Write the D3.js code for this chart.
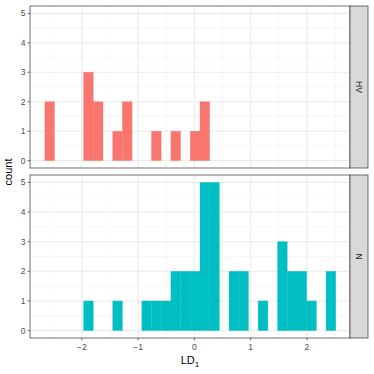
<!DOCTYPE html>
<html>
<head>
<meta charset="utf-8">
<script src="https://cdn.jsdelivr.net/npm/d3@7"></script>
<style>
  body { margin: 0; background: #fff; }
  text { font-family: "Liberation Sans", Arial, sans-serif; }
</style>
</head>
<body>
<div id="chart"></div>
<script>
// histogram bins (30 bins shared by both groups)
const binStart = -2.657;
const binWidth = 0.1723;
const groups = ["HV", "N"];
const countsHV = [2,0,0,0,3,2,0,1,2,0,0,1,0,1,0,1,2,0,0,0,0,0,0,0,0,0,0,0,0,0];
const countsN  = [0,0,0,0,1,0,0,1,0,0,1,1,1,2,2,2,5,5,0,2,2,0,1,0,3,2,2,1,0,2];
const groupColors = ["#F8766D", "#00BFC4"];
const xTicks = [-2, -1, 0, 1, 2];
const yTicks = [0, 1, 2, 3, 4, 5];

const W = 374, H = 374;
const panelLeft = 30, panelRight = 350, stripW = 18;
const panels = [{top: 6, bottom: 168}, {top: 175, bottom: 338}];

const svg = d3.select("#chart").append("svg")
    .attr("width", W).attr("height", H);

const x = d3.scaleLinear().domain([-2.92, 2.765]).range([panelLeft, panelRight]);
const allCounts = [countsHV, countsN];

groups.forEach((grp, gi) => {
    const p = panels[gi];
    const y = d3.scaleLinear().domain([-0.25, 5.25]).range([p.bottom, p.top]);
    const g = svg.append("g");

    g.append("rect")
        .attr("x", panelLeft).attr("y", p.top)
        .attr("width", panelRight - panelLeft).attr("height", p.bottom - p.top)
        .attr("fill", "#fff");

    // minor grid
    const xMinor = d3.range(-2.5, 3, 1);
    const yMinor = d3.range(0.5, 5.5, 1);
    g.selectAll(".xminor").data(xMinor).join("line")
        .attr("x1", d => x(d)).attr("x2", d => x(d))
        .attr("y1", p.top).attr("y2", p.bottom)
        .attr("stroke", "#F2F2F2").attr("stroke-width", 0.6);
    g.selectAll(".yminor").data(yMinor).join("line")
        .attr("y1", d => y(d)).attr("y2", d => y(d))
        .attr("x1", panelLeft).attr("x2", panelRight)
        .attr("stroke", "#F2F2F2").attr("stroke-width", 0.6);
    // major grid
    g.selectAll(".xmajor").data(xTicks).join("line")
        .attr("x1", d => x(d)).attr("x2", d => x(d))
        .attr("y1", p.top).attr("y2", p.bottom)
        .attr("stroke", "#EBEBEB").attr("stroke-width", 1.1);
    g.selectAll(".ymajor").data(yTicks).join("line")
        .attr("y1", d => y(d)).attr("y2", d => y(d))
        .attr("x1", panelLeft).attr("x2", panelRight)
        .attr("stroke", "#EBEBEB").attr("stroke-width", 1.1);

    // bars
    const bins = allCounts[gi].map((c, i) => ({
        x0: binStart + i * binWidth,
        x1: binStart + (i + 1) * binWidth,
        count: c
    }));
    g.selectAll(".bar").data(bins).join("rect")
        .attr("x", d => x(d.x0))
        .attr("width", d => x(d.x1) - x(d.x0))
        .attr("y", d => y(d.count))
        .attr("height", d => y(0) - y(d.count))
        .attr("fill", groupColors[gi])
        .attr("stroke", groupColors[gi])
        .attr("stroke-opacity", 0.4)
        .attr("stroke-width", 0.7);

    // panel border
    g.append("rect")
        .attr("x", panelLeft).attr("y", p.top)
        .attr("width", panelRight - panelLeft).attr("height", p.bottom - p.top)
        .attr("fill", "none").attr("stroke", "#333").attr("stroke-width", 0.7);

    // y axis
    g.selectAll(".ytick").data(yTicks).join("line")
        .attr("x1", panelLeft - 2.5).attr("x2", panelLeft)
        .attr("y1", d => y(d)).attr("y2", d => y(d))
        .attr("stroke", "#333").attr("stroke-width", 0.7);
    g.selectAll(".ylab").data(yTicks).join("text")
        .attr("x", panelLeft - 4.5).attr("y", d => y(d))
        .attr("dy", "0.35em")
        .attr("text-anchor", "end")
        .attr("font-size", 8.5).attr("fill", "#4D4D4D")
        .text(d => d);

    // strip
    g.append("rect")
        .attr("x", panelRight).attr("y", p.top)
        .attr("width", stripW).attr("height", p.bottom - p.top)
        .attr("fill", "#D9D9D9").attr("stroke", "#333").attr("stroke-width", 0.7);
    const cy = (p.top + p.bottom) / 2;
    g.append("text")
        .attr("transform", `translate(${panelRight + stripW / 2},${cy}) rotate(90)`)
        .attr("text-anchor", "middle").attr("dy", "0.35em")
        .attr("font-size", 8.5).attr("fill", "#1A1A1A")
        .text(grp);
});

// x axis on bottom panel
const pb = panels[1];
svg.selectAll(".xtick").data(xTicks).join("line")
    .attr("x1", d => x(d)).attr("x2", d => x(d))
    .attr("y1", pb.bottom).attr("y2", pb.bottom + 2.5)
    .attr("stroke", "#333").attr("stroke-width", 0.7);
svg.selectAll(".xlab").data(xTicks).join("text")
    .attr("x", d => x(d)).attr("y", pb.bottom + 11.5)
    .attr("text-anchor", "middle")
    .attr("font-size", 8.5).attr("fill", "#4D4D4D")
    .text(d => d < 0 ? "\u2212" + Math.abs(d) : d);

// axis titles
const xt = svg.append("text")
    .attr("x", (panelLeft + panelRight) / 2).attr("y", 364)
    .attr("text-anchor", "middle")
    .attr("font-size", 11).attr("fill", "#000");
xt.append("tspan").text("LD");
xt.append("tspan").attr("font-size", 8).attr("dy", 2.5).text("1");

svg.append("text")
    .attr("transform", `translate(12,${(panels[0].top + panels[1].bottom) / 2}) rotate(-90)`)
    .attr("text-anchor", "middle")
    .attr("font-size", 11).attr("fill", "#000")
    .text("count");
</script>
</body>
</html>
